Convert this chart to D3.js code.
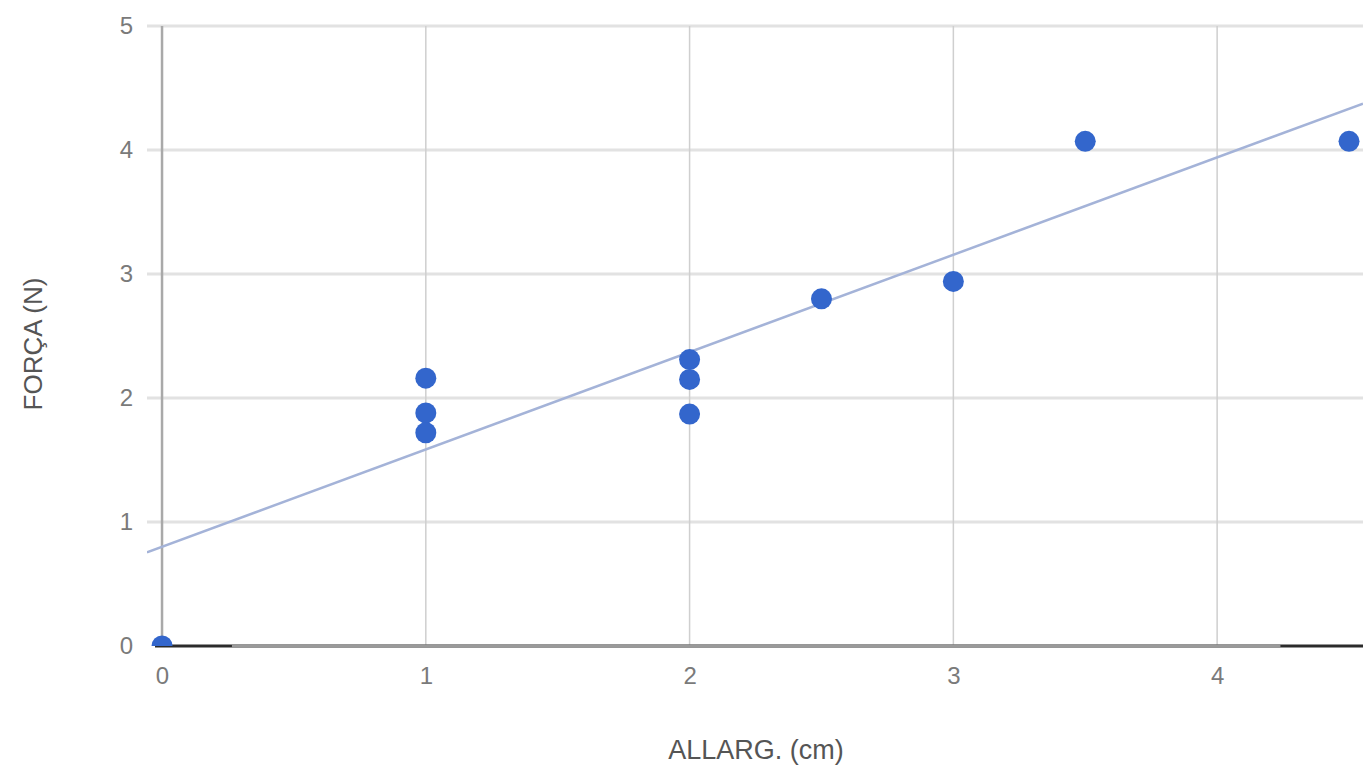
<!DOCTYPE html>
<html>
<head>
<meta charset="utf-8">
<script src="https://cdn.jsdelivr.net/npm/d3@7"></script>
<style>
  html, body { margin: 0; padding: 0; background: #fff; }
  svg { display: block; }
  text { font-family: "Liberation Sans", Arial, sans-serif; }
</style>
</head>
<body>
<svg id="chart" width="1363" height="766"></svg>
<script>
// Measurements: elongation (cm) against force (N)
const allargValues = [0, 1, 1, 1, 2, 2, 2, 2.5, 3, 3.5, 4.5];
const forcaValues  = [0, 2.16, 1.88, 1.72, 2.31, 2.15, 1.87, 2.80, 2.94, 4.07, 4.07];

// Linear trendline coefficients (force = intercept + slope * elongation)
const trendIntercept = 0.80;
const trendSlope = 0.785;

const xTickValues = [0, 1, 2, 3, 4];
const yTickValues = [0, 1, 2, 3, 4, 5];
const xTitle = "ALLARG. (cm)";
const yTitle = "FORÇA (N)";

const area = { left: 147, right: 1363, top: 26, bottom: 646 };

const svg = d3.select("#chart");

const x = d3.scaleLinear().domain([-0.057, 4.553]).range([area.left, area.right]);
const y = d3.scaleLinear().domain([0, 5]).range([area.bottom, area.top]);

svg.append("defs").append("clipPath").attr("id", "plot-clip")
  .append("rect")
  .attr("x", area.left).attr("y", area.top)
  .attr("width", area.right - area.left).attr("height", area.bottom - area.top);

// Horizontal gridlines
svg.append("g")
  .selectAll("line").data(yTickValues.filter(d => d !== 0)).join("line")
  .attr("x1", area.left).attr("x2", area.right)
  .attr("y1", d => y(d)).attr("y2", d => y(d))
  .attr("stroke", "#e2e2e2").attr("stroke-width", 3);

// Vertical gridlines
svg.append("g")
  .selectAll("line").data(xTickValues.filter(d => d !== 0)).join("line")
  .attr("x1", d => x(d)).attr("x2", d => x(d))
  .attr("y1", area.top).attr("y2", area.bottom)
  .attr("stroke", "#cfcfcf").attr("stroke-width", 1.5);

// Baselines at x = 0 and y = 0
svg.append("line")
  .attr("x1", x(0)).attr("x2", x(0))
  .attr("y1", area.top).attr("y2", area.bottom)
  .attr("stroke", "#a9a9a9").attr("stroke-width", 2.5);

svg.append("line")
  .attr("x1", area.left + 8).attr("x2", area.right)
  .attr("y1", y(0)).attr("y2", y(0))
  .attr("stroke", "#2b2b2b").attr("stroke-width", 3);
svg.append("line")
  .attr("x1", x(0.265)).attr("x2", x(4.24))
  .attr("y1", y(0)).attr("y2", y(0))
  .attr("stroke", "#9a9a9a").attr("stroke-width", 3);

const plot = svg.append("g").attr("clip-path", "url(#plot-clip)");

// Trendline across the full horizontal extent
const [tx0, tx1] = x.domain();
plot.append("line")
  .attr("x1", x(tx0)).attr("y1", y(trendIntercept + trendSlope * tx0))
  .attr("x2", x(tx1)).attr("y2", y(trendIntercept + trendSlope * tx1))
  .attr("stroke", "#a4b3d8").attr("stroke-width", 2.5);

// Data points
plot.append("g")
  .selectAll("circle").data(allargValues.map((v, i) => [v, forcaValues[i]])).join("circle")
  .attr("cx", d => x(d[0])).attr("cy", d => y(d[1]))
  .attr("r", 10.5)
  .attr("fill", "#3366cc");

// Axes with the domain path and tick marks hidden, labels only
const yAxis = d3.axisLeft(y).tickValues(yTickValues).tickSize(0).tickPadding(0).tickFormat(d3.format("d"));
const gy = svg.append("g").attr("transform", `translate(${x(0) - 29},0)`).call(yAxis);
gy.select(".domain").remove();
gy.selectAll("text")
  .attr("font-size", 24).attr("fill", "#7a7a7a")
  .style("font-family", '"Liberation Sans", Arial, sans-serif');

const xAxis = d3.axisBottom(x).tickValues(xTickValues).tickSize(0).tickPadding(0).tickFormat(d3.format("d"));
const gx = svg.append("g").attr("transform", `translate(0,${area.bottom + 21})`).call(xAxis);
gx.select(".domain").remove();
gx.selectAll("text")
  .attr("font-size", 24).attr("fill", "#7a7a7a")
  .style("font-family", '"Liberation Sans", Arial, sans-serif');

// Axis titles
svg.append("text")
  .attr("x", 756).attr("y", 759)
  .attr("text-anchor", "middle")
  .attr("font-size", 27).attr("fill", "#555")
  .text(xTitle);

svg.append("text")
  .attr("transform", "translate(42,344) rotate(-90)")
  .attr("text-anchor", "middle")
  .attr("font-size", 26).attr("fill", "#555")
  .text(yTitle);
</script>
</body>
</html>
